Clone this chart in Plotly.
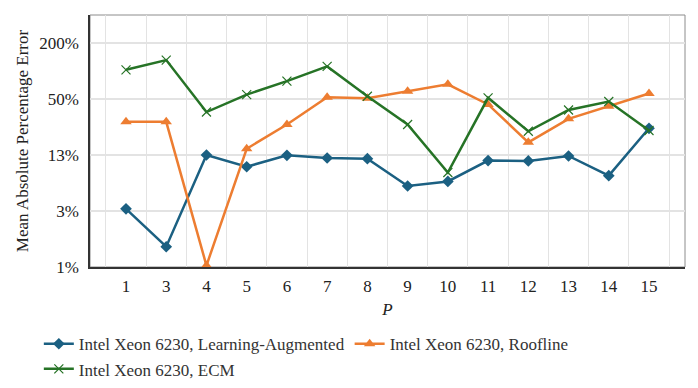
import plotly.graph_objects as go

# MAPE per P value, in percent
p_labels = ['1', '3', '4', '5', '6', '7', '8', '9', '10', '11', '12', '13', '14', '15']
learning_aug = [3.3, 1.29, 12.5, 9.35, 12.4, 11.6, 11.4, 5.8, 6.5, 10.9, 10.8, 12.2, 7.5, 24.2]
roofline = [28.4, 28.4, 0.81, 14.6, 26.6, 52.3, 51.0, 60.5, 72.0, 43.7, 17.1, 30.6, 41.9, 57.2]
ecm = [103, 131, 36.2, 55.8, 77.8, 112, 53.5, 26.6, 8.1, 51.5, 22.5, 38.1, 47.0, 22.9]

# log-4 style ticks like the original chart
tick_vals = [0.78125, 3.125, 12.5, 50, 200]
tick_text = ['1%', '3%', '13%', '50%', '200%']

font_name = 'Liberation Serif'

trace1 = go.Scatter(x=p_labels, y=learning_aug,
                    mode='lines+markers',
                    name='Intel Xeon 6230, Learning-Augmented',
                    line=dict(color='#1b6082', width=2.5),
                    marker=dict(symbol='diamond', size=9, color='#1b6082'),
                    cliponaxis=False)

trace2 = go.Scatter(x=p_labels, y=roofline,
                    mode='lines+markers',
                    name='Intel Xeon 6230, Roofline',
                    line=dict(color='#ed7d31', width=2.5),
                    marker=dict(symbol='triangle-up', size=10, color='#ed7d31'),
                    cliponaxis=False)

trace3 = go.Scatter(x=p_labels, y=ecm,
                    mode='lines+markers',
                    name='Intel Xeon 6230, ECM',
                    line=dict(color='#267326', width=2.5),
                    marker=dict(symbol='x-thin', size=9,
                                line=dict(color='#267326', width=1.2)),
                    cliponaxis=False)

fig = go.Figure(data=[trace1, trace2, trace3])

# page body has an 8px margin, so margins are shifted by 8px
fig.update_layout(
    width=698, height=388,
    margin=dict(l=82, r=21, t=7, b=129),
    paper_bgcolor='white',
    plot_bgcolor='white',
    font=dict(family=font_name, size=17, color='#222222'),
    showlegend=True,
    legend=dict(orientation='h',
                x=-0.086, y=-0.235, xanchor='left', yanchor='top',
                font=dict(family=font_name, size=17, color='#333333'),
                itemwidth=30, tracegroupgap=0),
    shapes=[dict(type='rect', xref='paper', yref='paper', x0=0, x1=1, y0=0, y1=1,
                 line=dict(color='#8c8c8c', width=1), layer='below')],
)

fig.update_xaxes(type='category',
                 tickson='boundaries',
                 ticks='',
                 automargin=False,
                 ticklabelstandoff=3,
                 showgrid=True, gridcolor='#e3e3e3', gridwidth=1,
                 showline=True, linecolor='#333333', linewidth=1.5,
                 title=dict(text='<i>P</i>', standoff=8, font=dict(size=17)),
                 tickfont=dict(size=17))

fig.update_yaxes(type='log',
                 range=[-0.1072, 2.602],
                 automargin=False,
                 ticklabelstandoff=6,
                 tickvals=tick_vals, ticktext=tick_text,
                 showgrid=True, gridcolor='#e3e3e3', gridwidth=1.5,
                 showline=True, linecolor='#333333', linewidth=1.5,
                 ticks='', ticklen=0,
                 zeroline=False,
                 title=dict(text='Mean Absolute Percentage Error', standoff=6,
                            font=dict(size=17)),
                 tickfont=dict(size=17))

fig.write_html("out.html")
